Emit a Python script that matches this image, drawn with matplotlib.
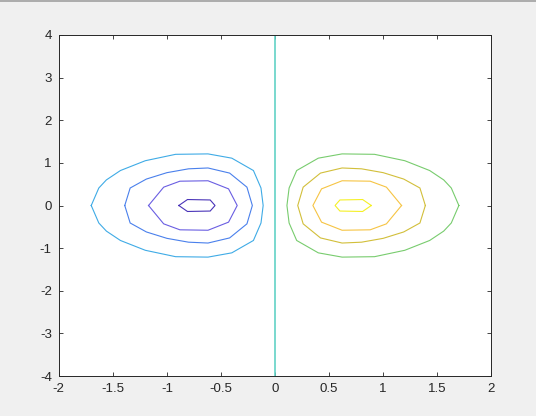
import matplotlib.pyplot as plt
from matplotlib.lines import Line2D

# contour levels of the plotted surface and their line colours (parula-like)
levels = [-0.4, -0.3, -0.2, -0.1, 0.0, 0.1, 0.2, 0.3, 0.4]
level_colors = [
    "#4a34b8",
    "#6a5ee2",
    "#4a80ec",
    "#3fabe6",
    "#62d2c6",
    "#78cc6e",
    "#d2bf3a",
    "#f6c443",
    "#f5f026",
]

# contour paths (closed loops)
c_m04_x = [-0.89, -0.81, -0.60, -0.555, -0.60, -0.81, -0.89]
c_m04_y = [0.0, 0.14, 0.13, 0.0, -0.13, -0.14, 0.0]

c_m03_x = [-1.17, -1.03, -0.88, -0.62, -0.43, -0.35, -0.43, -0.62, -0.88, -1.03, -1.17]
c_m03_y = [0.0, 0.43, 0.57, 0.58, 0.39, 0.0, -0.39, -0.58, -0.57, -0.43, 0.0]

c_m02_x = [-1.39, -1.34, -1.19, -1.00, -0.80, -0.62, -0.42, -0.26, -0.21,
           -0.26, -0.42, -0.62, -0.80, -1.00, -1.19, -1.34, -1.39]
c_m02_y = [0.0, 0.41, 0.62, 0.77, 0.86, 0.88, 0.76, 0.43, 0.0,
           -0.43, -0.76, -0.88, -0.86, -0.77, -0.62, -0.41, 0.0]

c_m01_x = [-1.70, -1.63, -1.56, -1.43, -1.20, -0.92, -0.62, -0.40, -0.20, -0.13, -0.11,
           -0.13, -0.20, -0.40, -0.62, -0.92, -1.20, -1.43, -1.56, -1.63, -1.70]
c_m01_y = [0.0, 0.41, 0.60, 0.82, 1.05, 1.20, 1.21, 1.11, 0.82, 0.41, 0.0,
           -0.41, -0.82, -1.11, -1.21, -1.20, -1.05, -0.82, -0.60, -0.41, 0.0]

c_0_x = [0.0, 0.0]
c_0_y = [-4.0, 4.0]

c_p01_x = [1.70, 1.63, 1.56, 1.43, 1.20, 0.92, 0.62, 0.40, 0.20, 0.13, 0.11,
           0.13, 0.20, 0.40, 0.62, 0.92, 1.20, 1.43, 1.56, 1.63, 1.70]
c_p01_y = [0.0, 0.41, 0.60, 0.82, 1.05, 1.20, 1.21, 1.11, 0.82, 0.41, 0.0,
           -0.41, -0.82, -1.11, -1.21, -1.20, -1.05, -0.82, -0.60, -0.41, 0.0]

c_p02_x = [1.39, 1.34, 1.19, 1.00, 0.80, 0.62, 0.42, 0.26, 0.21,
           0.26, 0.42, 0.62, 0.80, 1.00, 1.19, 1.34, 1.39]
c_p02_y = [0.0, 0.41, 0.62, 0.77, 0.86, 0.88, 0.76, 0.43, 0.0,
           -0.43, -0.76, -0.88, -0.86, -0.77, -0.62, -0.41, 0.0]

c_p03_x = [1.17, 1.03, 0.88, 0.62, 0.43, 0.35, 0.43, 0.62, 0.88, 1.03, 1.17]
c_p03_y = [0.0, 0.43, 0.57, 0.58, 0.39, 0.0, -0.39, -0.58, -0.57, -0.43, 0.0]

c_p04_x = [0.89, 0.81, 0.60, 0.555, 0.60, 0.81, 0.89]
c_p04_y = [0.0, 0.14, 0.13, 0.0, -0.13, -0.14, 0.0]

x_ticks = [-2, -1.5, -1, -0.5, 0, 0.5, 1, 1.5, 2]
x_tick_labels = ["-2", "-1.5", "-1", "-0.5", "0", "0.5", "1", "1.5", "2"]
y_ticks = [-4, -3, -2, -1, 0, 1, 2, 3, 4]
y_tick_labels = ["-4", "-3", "-2", "-1", "0", "1", "2", "3", "4"]


def main():
    plt.rcParams["font.family"] = ["Liberation Sans", "DejaVu Sans"]

    fig = plt.figure(figsize=(5.36, 4.16), dpi=100, facecolor="#f0f0f0")
    ax = fig.add_axes([0.1097, 0.0959, 0.8069, 0.8202])
    ax.set_facecolor("white")

    paths = [
        (c_m04_x, c_m04_y),
        (c_m03_x, c_m03_y),
        (c_m02_x, c_m02_y),
        (c_m01_x, c_m01_y),
        (c_0_x, c_0_y),
        (c_p01_x, c_p01_y),
        (c_p02_x, c_p02_y),
        (c_p03_x, c_p03_y),
        (c_p04_x, c_p04_y),
    ]
    for (px, py), lev, col in zip(paths, levels, level_colors):
        lw = 1.2 if lev == 0.0 else 0.8
        ax.plot(px, py, color=col, linewidth=lw, solid_joinstyle="miter")

    ax.set_xlim(-2, 2)
    ax.set_ylim(-4, 4)
    ax.set_xticks(x_ticks)
    ax.set_xticklabels(x_tick_labels)
    ax.set_yticks(y_ticks)
    ax.set_yticklabels(y_tick_labels)

    # MATLAB style box with inward ticks on all sides
    for sp in ax.spines.values():
        sp.set_color("#262626")
        sp.set_linewidth(0.7)
    ax.tick_params(
        direction="in", top=True, right=True, length=3.2, width=0.6,
        color="#262626", labelcolor="#262626", labelsize=9.5, pad=5,
    )

    # window frame line at the top of the screenshot
    fig.add_artist(Line2D([0, 1], [0.998, 0.998], color="#a0a0a0", linewidth=1.2,
                          transform=fig.transFigure))

    plt.savefig("out.png", dpi=100, facecolor=fig.get_facecolor())


if __name__ == "__main__":
    main()
